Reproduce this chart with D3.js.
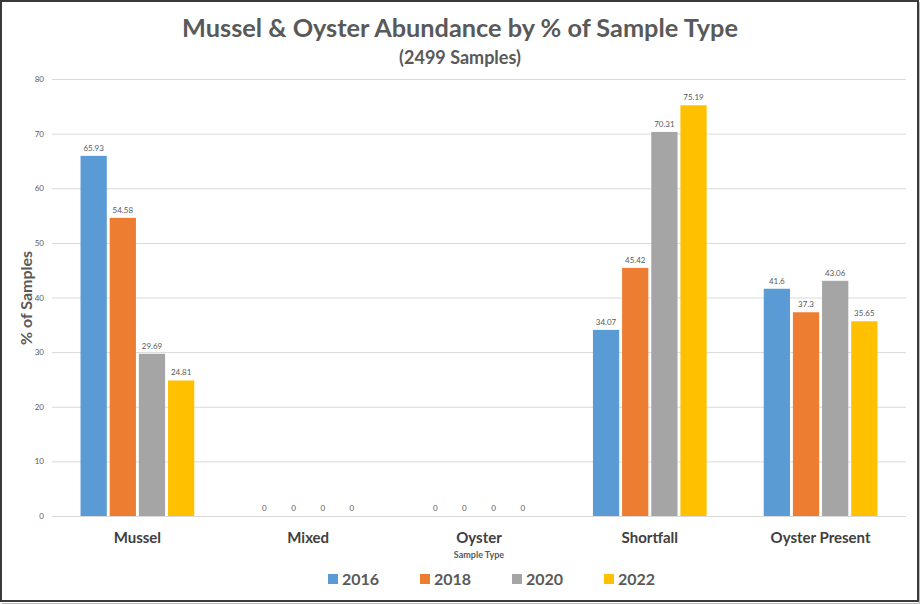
<!DOCTYPE html>
<html><head><meta charset="utf-8">
<script src="https://cdn.jsdelivr.net/npm/d3@7"></script>
<style>
html,body{margin:0;padding:0;background:#fff;}
svg{display:block;}
text{font-family:Lato,"Open Sans",sans-serif;}
</style></head>
<body>
<svg id="c" width="920" height="604"></svg>
<script>
const categories = ["Mussel","Mixed","Oyster","Shortfall","Oyster Present"];
const years = ["2016","2018","2020","2022"];
const values2016 = [65.93, 0, 0, 34.07, 41.6];
const values2018 = [54.58, 0, 0, 45.42, 37.3];
const values2020 = [29.69, 0, 0, 70.31, 43.06];
const values2022 = [24.81, 0, 0, 75.19, 35.65];
const colors = ["#5b9bd5","#ed7d31","#a5a5a5","#ffc000"];
const yTicks = [0,10,20,30,40,50,60,70,80];
const series = [values2016, values2018, values2020, values2022];

const svg = d3.select("#c");
const txt = "#595959";

// frame
svg.append("rect").attr("x",1).attr("y",1).attr("width",917).attr("height",600)
  .attr("fill","#fff").attr("stroke","#3a3a3a").attr("stroke-width",2);
svg.append("line").attr("x1",919.5).attr("x2",919.5).attr("y1",2).attr("y2",604).attr("stroke","#bbb");
svg.append("line").attr("x1",2).attr("x2",920).attr("y1",603.5).attr("y2",603.5).attr("stroke","#bbb");

const pL = 52, pR = 906, pT = 79, pB = 516;
const y = d3.scaleLinear().domain([0,80]).range([pB, pT]);
const x0 = d3.scaleBand().domain(categories).range([pL,pR]).paddingInner(0.3).paddingOuter(0.15);
const x1 = d3.scaleBand().domain(years).range([0,x0.bandwidth()]).padding(0.1);

// grid
const yAxis = d3.axisLeft(y).tickValues(yTicks).tickSize(-(pR-pL)).tickPadding(8);
const ga = svg.append("g").attr("transform",`translate(${pL},0)`).call(yAxis);
ga.select(".domain").remove();
ga.selectAll(".tick line").attr("stroke","#d9d9d9").attr("stroke-width",1);
ga.selectAll(".tick text").attr("fill",txt).attr("font-size",8).attr("font-family","Lato, sans-serif");

// bars
const groups = svg.append("g").selectAll("g").data(categories).join("g")
  .attr("transform", c => `translate(${x0(c)},0)`);
groups.selectAll("rect").data((c,i) => years.map((yr,j) => ({yr, v: series[j][i], j})))
  .join("rect")
  .attr("x", d => x1(d.yr)).attr("width", x1.bandwidth())
  .attr("y", d => y(d.v)).attr("height", d => y(0)-y(d.v))
  .attr("fill", d => colors[d.j]);
groups.selectAll("text").data((c,i) => years.map((yr,j) => ({yr, v: series[j][i], j})))
  .join("text")
  .attr("x", d => x1(d.yr)+x1.bandwidth()/2).attr("y", d => y(d.v)-5)
  .attr("text-anchor","middle").attr("font-size",8).attr("fill",txt)
  .text(d => String(d.v));

// x axis line
svg.append("line").attr("x1",pL).attr("x2",pR).attr("y1",pB+0.5).attr("y2",pB+0.5).attr("stroke","#d9d9d9");

// category labels
svg.append("g").selectAll("text").data(categories).join("text")
  .attr("x", c => x0(c)+x0.bandwidth()/2).attr("y",543)
  .attr("text-anchor","middle").attr("font-size",15).attr("font-weight","bold").attr("fill","#404040")
  .text(c => c);

svg.append("text").attr("x",479).attr("y",558).attr("text-anchor","middle")
  .attr("font-size",9).attr("font-weight","bold").attr("fill",txt).text("Sample Type");

// y title
svg.append("text").attr("transform","translate(32,298) rotate(-90)").attr("text-anchor","middle")
  .attr("font-size",16).attr("font-weight","bold").attr("fill",txt).text("% of Samples");

// title
svg.append("text").attr("x",460).attr("y",37).attr("text-anchor","middle")
  .attr("font-size",25.3).attr("font-weight","bold").attr("fill",txt)
  .text("Mussel & Oyster Abundance by % of Sample Type");
svg.append("text").attr("x",460).attr("y",64).attr("text-anchor","middle")
  .attr("font-size",18).attr("font-weight","bold").attr("fill",txt)
  .text("(2499 Samples)");

// legend
const lg = svg.append("g").selectAll("g").data(years).join("g")
  .attr("transform",(d,i)=>`translate(${328+i*92},574)`);
lg.append("rect").attr("width",10).attr("height",10).attr("fill",(d,i)=>colors[i]);
lg.append("text").attr("x",14).attr("y",10.5).attr("font-size",16).attr("font-weight","bold")
  .attr("fill",txt).text(d=>d);
</script>
</body></html>
